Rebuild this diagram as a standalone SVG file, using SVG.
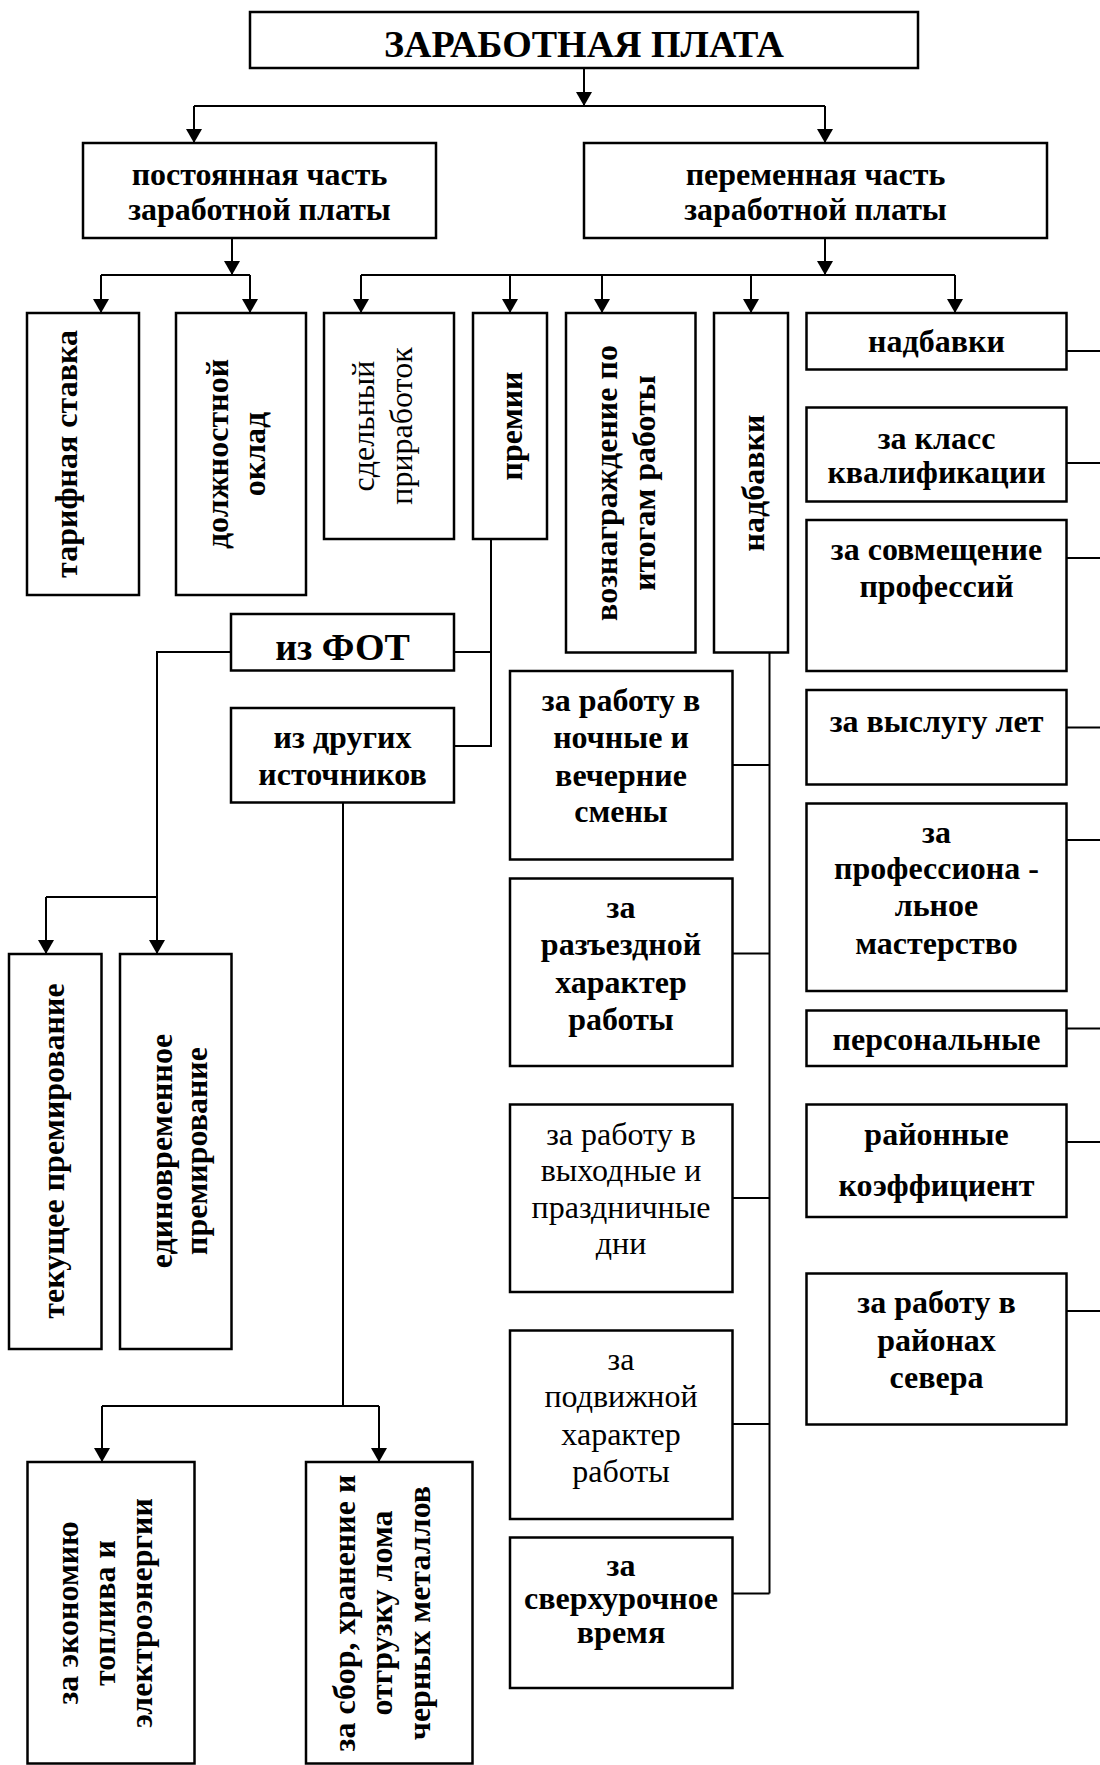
<svg xmlns="http://www.w3.org/2000/svg" width="1100" height="1765" viewBox="0 0 1100 1765">
<defs>
<style>
.box{fill:#fff;stroke:#000;stroke-width:2.5}
.ln{fill:none;stroke:#000;stroke-width:2}
.arr{fill:none;stroke:#000;stroke-width:2;marker-end:url(#ah)}
text{font-family:"Liberation Serif","Times New Roman",serif;font-size:32px;text-anchor:middle;fill:#000}
.b{font-weight:bold}
.big{font-size:38px;font-weight:bold}
</style>
<marker id="ah" markerUnits="userSpaceOnUse" viewBox="0 0 14 16" refX="14" refY="8" markerWidth="14" markerHeight="16" orient="auto">
<path d="M0,0 L14,8 L0,16 z" fill="#000"/>
</marker>
</defs>
<rect width="1100" height="1765" fill="#fff"/>

<g id="connectors">
<line class="arr" x1="584" y1="68" x2="584" y2="106"/>
<line class="ln" x1="194" y1="106" x2="825" y2="106"/>
<line class="arr" x1="194" y1="106" x2="194" y2="143"/>
<line class="arr" x1="825" y1="106" x2="825" y2="143"/>
<line class="arr" x1="232" y1="238" x2="232" y2="275"/>
<line class="ln" x1="101" y1="275" x2="250" y2="275"/>
<line class="arr" x1="101" y1="275" x2="101" y2="313"/>
<line class="arr" x1="250" y1="275" x2="250" y2="313"/>
<line class="arr" x1="825" y1="238" x2="825" y2="275"/>
<line class="ln" x1="361" y1="275" x2="955" y2="275"/>
<line class="arr" x1="361" y1="275" x2="361" y2="313"/>
<line class="arr" x1="510" y1="275" x2="510" y2="313"/>
<line class="arr" x1="602" y1="275" x2="602" y2="313"/>
<line class="arr" x1="751" y1="275" x2="751" y2="313"/>
<line class="arr" x1="955" y1="275" x2="955" y2="313"/>
<polyline class="ln" points="491,539 491,746 454,746"/>
<line class="ln" x1="454" y1="652" x2="491" y2="652"/>
<polyline class="ln" points="231,652 157,652 157,897"/>
<line class="ln" x1="46" y1="897" x2="157" y2="897"/>
<line class="arr" x1="46" y1="897" x2="46" y2="954"/>
<line class="arr" x1="157" y1="897" x2="157" y2="954"/>
<line class="ln" x1="343" y1="803" x2="343" y2="1406"/>
<line class="ln" x1="102" y1="1406" x2="379" y2="1406"/>
<line class="arr" x1="102" y1="1406" x2="102" y2="1462"/>
<line class="arr" x1="379" y1="1406" x2="379" y2="1462"/>
<line class="ln" x1="769.5" y1="652" x2="769.5" y2="1593.5"/>
<line class="ln" x1="732.5" y1="765" x2="769.5" y2="765"/>
<line class="ln" x1="732.5" y1="953.5" x2="769.5" y2="953.5"/>
<line class="ln" x1="732.5" y1="1198" x2="769.5" y2="1198"/>
<line class="ln" x1="732.5" y1="1424" x2="769.5" y2="1424"/>
<line class="ln" x1="732.5" y1="1593.5" x2="769.5" y2="1593.5"/>
<line class="ln" x1="1066.5" y1="351" x2="1100" y2="351"/>
<line class="ln" x1="1066.5" y1="463" x2="1100" y2="463"/>
<line class="ln" x1="1066.5" y1="558" x2="1100" y2="558"/>
<line class="ln" x1="1066.5" y1="727.5" x2="1100" y2="727.5"/>
<line class="ln" x1="1066.5" y1="840" x2="1100" y2="840"/>
<line class="ln" x1="1066.5" y1="1028.5" x2="1100" y2="1028.5"/>
<line class="ln" x1="1066.5" y1="1142" x2="1100" y2="1142"/>
<line class="ln" x1="1066.5" y1="1311" x2="1100" y2="1311"/>
</g>

<g id="n-title"><rect class="box" x="250" y="12" width="668" height="56"/><text class="big" x="584" y="57">ЗАРАБОТНАЯ ПЛАТА</text></g>

<g id="n-const"><rect class="box" x="83" y="143" width="353" height="95"/><text class="b" x="259.5" y="185">постоянная часть</text><text class="b" x="259.5" y="220">заработной платы</text></g>
<g id="n-var"><rect class="box" x="584" y="143" width="463" height="95"/><text class="b" x="815.5" y="185">переменная часть</text><text class="b" x="815.5" y="220">заработной платы</text></g>

<g id="n-tarif"><rect class="box" x="27" y="313" width="112" height="282"/><text class="b" transform="translate(77,454) rotate(-90)">тарифная ставка</text></g>
<g id="n-oklad"><rect class="box" x="176" y="313" width="130" height="282"/><text class="b" transform="translate(228,454) rotate(-90)">должностной</text><text class="b" transform="translate(265,454) rotate(-90)">оклад</text></g>
<g id="n-sdel"><rect class="box" x="324" y="313" width="130" height="226"/><text transform="translate(374,426) rotate(-90)">сдельный</text><text transform="translate(412,426) rotate(-90)">приработок</text></g>
<g id="n-premii"><rect class="box" x="473" y="313" width="74" height="226"/><text class="b" transform="translate(522,426) rotate(-90)">премии</text></g>
<g id="n-voznagr"><rect class="box" x="566" y="313" width="129.5" height="339.5"/><text class="b" transform="translate(617,483) rotate(-90)">вознаграждение по</text><text class="b" transform="translate(655,483) rotate(-90)">итогам работы</text></g>
<g id="n-nadb-v"><rect class="box" x="714" y="313" width="74" height="339.5"/><text class="b" transform="translate(764,483) rotate(-90)">надбавки</text></g>

<g id="n-nadb"><rect class="box" x="806.5" y="313" width="260" height="56.5"/><text class="b" x="936.5" y="351.5">надбавки</text></g>
<g id="n-klass"><rect class="box" x="806.5" y="407.5" width="260" height="94"/><text class="b" x="936.5" y="448.5">за класс</text><text class="b" x="936.5" y="483">квалификации</text></g>
<g id="n-sovm"><rect class="box" x="806.5" y="520" width="260" height="151"/><text class="b" x="936.5" y="560">за совмещение</text><text class="b" x="936.5" y="597">профессий</text></g>
<g id="n-vysl"><rect class="box" x="806.5" y="690" width="260" height="94.5"/><text class="b" x="936.5" y="732">за выслугу лет</text></g>
<g id="n-prof"><rect class="box" x="806.5" y="803.5" width="260" height="187.5"/><text class="b" x="936.5" y="843">за</text><text class="b" x="936.5" y="878.5">профессиона -</text><text class="b" x="936.5" y="916">льное</text><text class="b" x="936.5" y="953.5">мастерство</text></g>
<g id="n-pers"><rect class="box" x="806.5" y="1010.5" width="260" height="55.5"/><text class="b" x="936.5" y="1050">персональные</text></g>
<g id="n-rayon"><rect class="box" x="806.5" y="1104.5" width="260" height="112.5"/><text class="b" x="936.5" y="1144.5">районные</text><text class="b" x="936.5" y="1196">коэффициент</text></g>
<g id="n-sever"><rect class="box" x="806.5" y="1273.5" width="260" height="151"/><text class="b" x="936.5" y="1313">за работу в</text><text class="b" x="936.5" y="1350.5">районах</text><text class="b" x="936.5" y="1388">севера</text></g>

<g id="n-noch"><rect class="box" x="510" y="671" width="222.5" height="188.5"/><text class="b" x="621" y="710.5">за работу в</text><text class="b" x="621" y="748">ночные и</text><text class="b" x="621" y="785.5">вечерние</text><text class="b" x="621" y="822">смены</text></g>
<g id="n-razezd"><rect class="box" x="510" y="878.5" width="222.5" height="187.5"/><text class="b" x="621" y="918">за</text><text class="b" x="621" y="955">разъездной</text><text class="b" x="621" y="993">характер</text><text class="b" x="621" y="1029.5">работы</text></g>
<g id="n-vyh"><rect class="box" x="510" y="1104.5" width="222.5" height="187.5"/><text x="621" y="1144.5">за работу в</text><text x="621" y="1181">выходные и</text><text x="621" y="1217.5">праздничные</text><text x="621" y="1254">дни</text></g>
<g id="n-podv"><rect class="box" x="510" y="1330.5" width="222.5" height="188.5"/><text x="621" y="1369.5">за</text><text x="621" y="1407">подвижной</text><text x="621" y="1445">характер</text><text x="621" y="1481.5">работы</text></g>
<g id="n-sverh"><rect class="box" x="510" y="1537.5" width="222.5" height="150.5"/><text class="b" x="621" y="1576">за</text><text class="b" x="621" y="1609">сверхурочное</text><text class="b" x="621" y="1643">время</text></g>

<g id="n-fot"><rect class="box" x="231" y="614" width="223" height="56.5"/><text class="big" x="342.5" y="660">из ФОТ</text></g>
<g id="n-drug"><rect class="box" x="231" y="708" width="223" height="94.5"/><text class="b" x="342.5" y="748">из других</text><text class="b" x="342.5" y="785">источников</text></g>

<g id="n-tek"><rect class="box" x="9" y="954" width="92.5" height="395"/><text class="b" transform="translate(64,1151) rotate(-90)">текущее премирование</text></g>
<g id="n-edin"><rect class="box" x="120" y="954" width="111.5" height="395"/><text class="b" transform="translate(172,1151) rotate(-90)">единовременное</text><text class="b" transform="translate(207,1151) rotate(-90)">премирование</text></g>

<g id="n-ekon"><rect class="box" x="27.5" y="1462" width="167" height="301.5"/><text class="b" transform="translate(78,1613) rotate(-90)">за экономию</text><text class="b" transform="translate(115,1613) rotate(-90)">топлива и</text><text class="b" transform="translate(152,1613) rotate(-90)">электроэнергии</text></g>
<g id="n-sbor"><rect class="box" x="306" y="1462" width="166.5" height="301.5"/><text class="b" transform="translate(355,1613) rotate(-90)">за сбор, хранение и</text><text class="b" transform="translate(392,1613) rotate(-90)">отгрузку лома</text><text class="b" transform="translate(430,1613) rotate(-90)">черных металлов</text></g>
</svg>
